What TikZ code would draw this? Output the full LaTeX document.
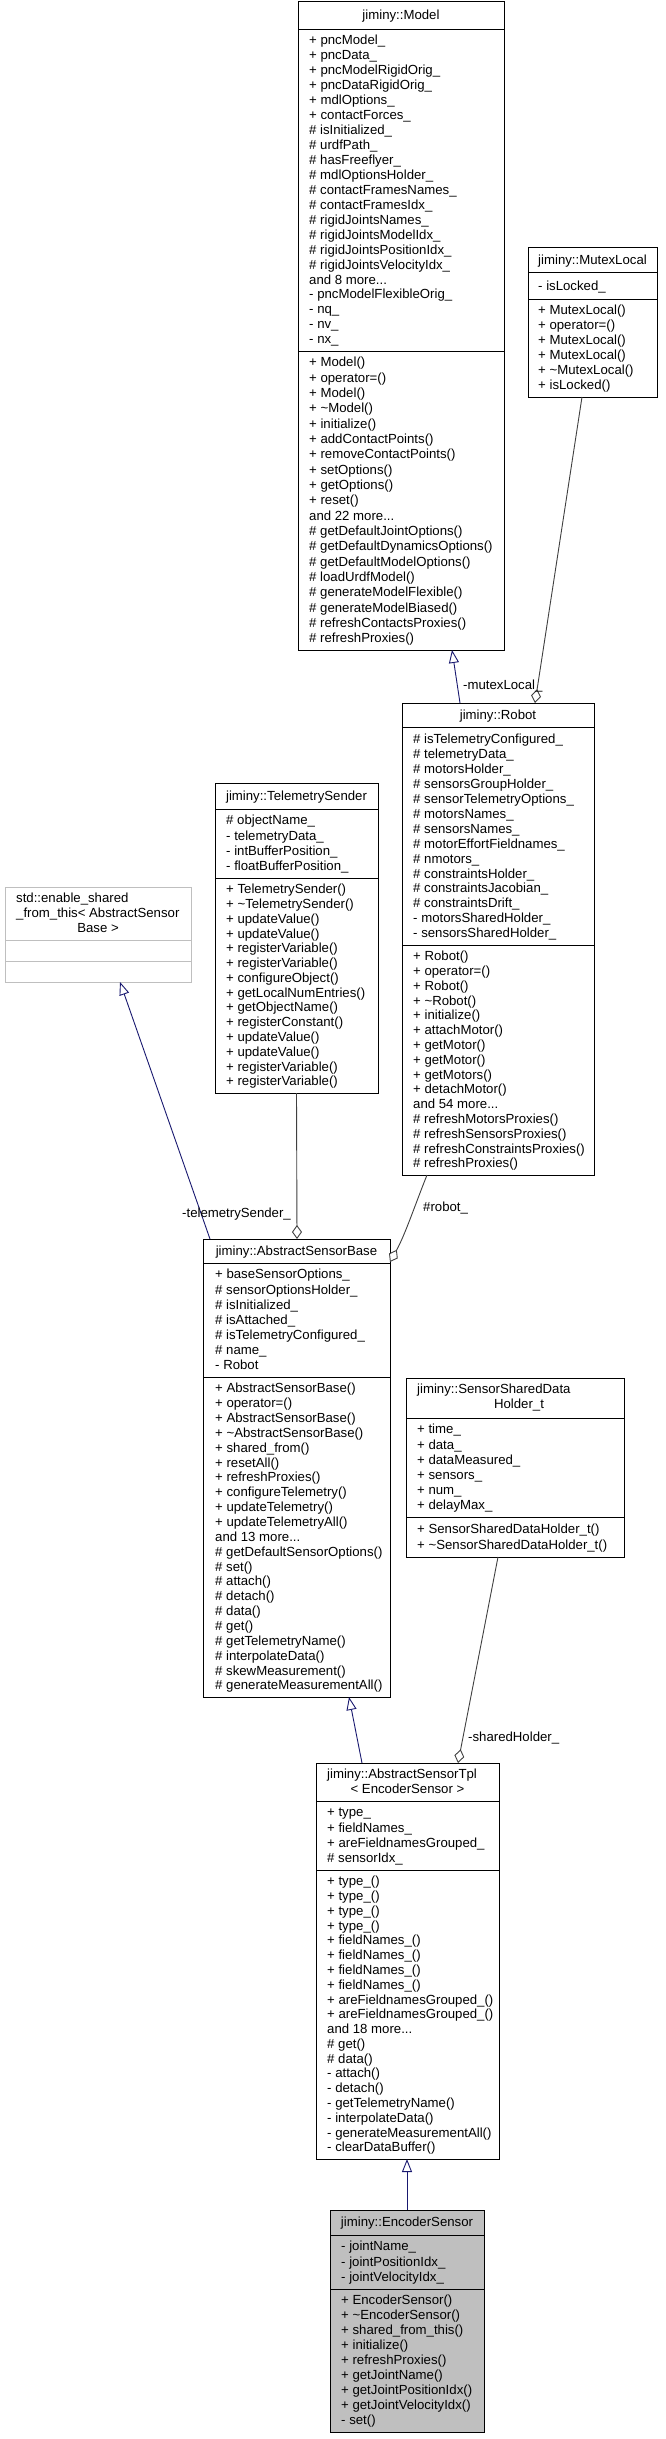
\documentclass[tikz,border=0pt]{standalone}
\usepackage{fontspec}
\setmainfont{Liberation Sans}
\usetikzlibrary{arrows.meta,calc,fit}
\definecolor{navyc}{HTML}{191970}
\definecolor{aggc}{HTML}{404040}
\definecolor{lgray}{HTML}{BFBFBF}
\newcommand\threedots{...}
\newcommand\cbox[6]{%
  \coordinate (#1-nw) at (#2,#3); \coordinate (#1-se) at (#4,#5);
  \node[clsbox, fit=(#1-nw)(#1-se), #6] (#1) {};}
\newcommand\csep[2]{\draw[sepline] (#1.west |- 0,#2) -- (#1.east |- 0,#2);}
\newcommand\complines[6]{%
  \pgfmathsetmacro\lnh{(#4-#3-8)/#5}%
  \foreach \txt [count=\i from 0] in {#6} {%
    \node[ltext] (#1-\i) at ({#2},{#3+4+(\i+0.5)*\lnh+4.3}) {\txt};
  }}
\begin{document}
\begin{tikzpicture}[x=1pt,y=-1pt,
  ltext/.style={anchor=base west, inner sep=0pt, font=\fontsize{13.2}{15}\selectfont},
  ctext/.style={anchor=base, inner sep=0pt, font=\fontsize{13.2}{15}\selectfont},
  rtext/.style={anchor=base east, inner sep=0pt, font=\fontsize{13.2}{15}\selectfont},
  clsbox/.style={draw=black, line width=0.9pt, inner sep=0pt, outer sep=0pt},
  sepline/.style={draw=black, line width=0.9pt},
  inh/.style={draw=navyc, line width=0.9pt, -{Triangle[length=13pt, width=10pt, fill=white]}},
  agg/.style={draw=aggc, line width=0.9pt, -{Diamond[length=14pt, width=10pt, fill=white]}}]
\fill[white] (0,0) rectangle (665,2439);
\useasboundingbox (0,0) rectangle (665,2439);

% jiminy::Model
\cbox{model}{298}{1}{504}{650}{}
\csep{model}{29}\csep{model}{351}
\node[ctext] (model-t) at (401,19.3) {jiminy::Model};
\complines{ma}{309}{29}{351}{21}{+ pncModel\_,+ pncData\_,+ pncModelRigidOrig\_,+ pncDataRigidOrig\_,+ mdlOptions\_,+ contactForces\_,\# isInitialized\_,\# urdfPath\_,\# hasFreeflyer\_,\# mdlOptionsHolder\_,\# contactFramesNames\_,\# contactFramesIdx\_,\# rigidJointsNames\_,\# rigidJointsModelIdx\_,\# rigidJointsPositionIdx\_,\# rigidJointsVelocityIdx\_,and 8 more\threedots,- pncModelFlexibleOrig\_,- nq\_,- nv\_,- nx\_}
\complines{mm}{309}{351}{650}{19}{+ Model(),+ operator=(),+ Model(),+ \textasciitilde Model(),+ initialize(),+ addContactPoints(),+ removeContactPoints(),+ setOptions(),+ getOptions(),+ reset(),and 22 more\threedots,\# getDefaultJointOptions(),\# getDefaultDynamicsOptions(),\# getDefaultModelOptions(),\# loadUrdfModel(),\# generateModelFlexible(),\# generateModelBiased(),\# refreshContactsProxies(),\# refreshProxies()}

% jiminy::MutexLocal
\cbox{mutex}{528}{247}{657}{397}{}
\csep{mutex}{272.7}\csep{mutex}{299}
\node[ctext] (mutex-t) at (592.5,264.3) {jiminy::MutexLocal};
\complines{xa}{538}{272.7}{299}{1}{- isLocked\_}
\complines{xm}{538}{299}{397}{6}{+ MutexLocal(),+ operator=(),+ MutexLocal(),+ MutexLocal(),+ \textasciitilde MutexLocal(),+ isLocked()}

% jiminy::Robot
\cbox{robot}{402}{703}{594}{1175}{}
\csep{robot}{727.7}\csep{robot}{945}
\node[ctext] (robot-t) at (498,719.6) {jiminy::Robot};
\complines{ra}{413}{727.7}{945}{14}{\# isTelemetryConfigured\_,\# telemetryData\_,\# motorsHolder\_,\# sensorsGroupHolder\_,\# sensorTelemetryOptions\_,\# motorsNames\_,\# sensorsNames\_,\# motorEffortFieldnames\_,\# nmotors\_,\# constraintsHolder\_,\# constraintsJacobian\_,\# constraintsDrift\_,- motorsSharedHolder\_,- sensorsSharedHolder\_}
\complines{rm}{413}{945}{1175}{15}{+ Robot(),+ operator=(),+ Robot(),+ \textasciitilde Robot(),+ initialize(),+ attachMotor(),+ getMotor(),+ getMotor(),+ getMotors(),+ detachMotor(),and 54 more\threedots,\# refreshMotorsProxies(),\# refreshSensorsProxies(),\# refreshConstraintsProxies(),\# refreshProxies()}

% jiminy::TelemetrySender
\cbox{ts}{215}{783}{378}{1093}{}
\csep{ts}{809}\csep{ts}{878}
\node[ctext] (ts-t) at (296.5,800.3) {jiminy::TelemetrySender};
\complines{ta}{226}{809}{878}{4}{\# objectName\_,- telemetryData\_,- intBufferPosition\_,- floatBufferPosition\_}
\complines{tm}{226}{878}{1093}{14}{+ TelemetrySender(),+ \textasciitilde TelemetrySender(),+ updateValue(),+ updateValue(),+ registerVariable(),+ registerVariable(),+ configureObject(),+ getLocalNumEntries(),+ getObjectName(),+ registerConstant(),+ updateValue(),+ updateValue(),+ registerVariable(),+ registerVariable()}

% std::enable_shared_from_this
\cbox{esft}{5}{887}{191}{982}{draw=lgray}
\draw[sepline, draw=lgray] (esft.west |- 0,940) -- (esft.east |- 0,940);
\draw[sepline, draw=lgray] (esft.west |- 0,961) -- (esft.east |- 0,961);
\node[ltext] (esft-t1) at (16,902.3) {std::enable\_shared};
\node[ltext] (esft-t2) at (16,917.3) {\_from\_this< AbstractSensor};
\node[ctext] (esft-t3) at (98,932.3) {Base >};

% jiminy::AbstractSensorBase
\cbox{asb}{203}{1239}{390}{1697}{}
\csep{asb}{1263}\csep{asb}{1377}
\node[ctext] (asb-t) at (296.5,1255.3) {jiminy::AbstractSensorBase};
\complines{aa}{215}{1263}{1377}{7}{+ baseSensorOptions\_,\# sensorOptionsHolder\_,\# isInitialized\_,\# isAttached\_,\# isTelemetryConfigured\_,\# name\_,- Robot}
\complines{am}{215}{1377}{1697}{21}{+ AbstractSensorBase(),+ operator=(),+ AbstractSensorBase(),+ \textasciitilde AbstractSensorBase(),+ shared\_from(),+ resetAll(),+ refreshProxies(),+ configureTelemetry(),+ updateTelemetry(),+ updateTelemetryAll(),and 13 more\threedots,\# getDefaultSensorOptions(),\# set(),\# attach(),\# detach(),\# data(),\# get(),\# getTelemetryName(),\# interpolateData(),\# skewMeasurement(),\# generateMeasurementAll()}

% jiminy::SensorSharedDataHolder_t
\cbox{ssdh}{406}{1378}{624}{1557}{}
\csep{ssdh}{1418}\csep{ssdh}{1517}
\node[ltext] (ssdh-t1) at (417,1393.7) {jiminy::SensorSharedData};
\node[ctext] (ssdh-t2) at (519,1408.5) {Holder\_t};
\complines{sa}{417}{1418}{1517}{6}{+ time\_,+ data\_,+ dataMeasured\_,+ sensors\_,+ num\_,+ delayMax\_}
\complines{sm}{417}{1517}{1557}{2}{+ SensorSharedDataHolder\_t(),+ \textasciitilde SensorSharedDataHolder\_t()}

% jiminy::AbstractSensorTpl< EncoderSensor >
\cbox{tpl}{316}{1763}{499}{2159}{}
\csep{tpl}{1801}\csep{tpl}{1870}
\node[ltext] (tpl-t1) at (327,1778.7) {jiminy::AbstractSensorTpl};
\node[ctext] (tpl-t2) at (407.5,1793.5) {< EncoderSensor >};
\complines{pa}{327}{1801}{1870}{4}{+ type\_,+ fieldNames\_,+ areFieldnamesGrouped\_,\# sensorIdx\_}
\complines{pm}{327}{1870}{2159}{19}{+ type\_(),+ type\_(),+ type\_(),+ type\_(),+ fieldNames\_(),+ fieldNames\_(),+ fieldNames\_(),+ fieldNames\_(),+ areFieldnamesGrouped\_(),+ areFieldnamesGrouped\_(),and 18 more\threedots,\# get(),\# data(),- attach(),- detach(),- getTelemetryName(),- interpolateData(),- generateMeasurementAll(),- clearDataBuffer()}

% jiminy::EncoderSensor
\cbox{enc}{330}{2210}{484}{2432}{fill=lgray}
\csep{enc}{2235}\csep{enc}{2289}
\node[ctext] (enc-t) at (407,2226.8) {jiminy::EncoderSensor};
\complines{ea}{341}{2235}{2289}{3}{- jointName\_,- jointPositionIdx\_,- jointVelocityIdx\_}
\complines{em}{341}{2289}{2432}{9}{+ EncoderSensor(),+ \textasciitilde EncoderSensor(),+ shared\_from\_this(),+ initialize(),+ refreshProxies(),+ getJointName(),+ getJointPositionIdx(),+ getJointVelocityIdx(),- set()}

% connectors
\draw[inh] ($(robot.north west)+(58,0)$) -- ($(model.south west)+(154,0)$);
\draw[agg] ($(mutex.south west)+(54,0)$) -- ($(robot.north west)+(133,0)$);
\node[ltext] (lbl-mutex) at (463,689) {-mutexLocal\_};
\draw[inh] ($(asb.north west)+(7,0)$) -- ($(esft.south west)+(115,0)$);
\draw[agg] (ts.south) -- ($(asb.north west)+(94,0)$);
\node[rtext] (lbl-ts) at (291,1217) {-telemetrySender\_};
\draw[agg] ($(robot.south west)+(25,0)$) .. controls (415,1205) and (405,1235) .. ($(asb.north east)+(0,23)$);
\node[ltext] (lbl-robot) at (423,1211) {\#robot\_};
\draw[inh] ($(tpl.north west)+(46,0)$) -- ($(asb.south west)+(146,0)$);
\draw[agg] ($(ssdh.south west)+(92,0)$) -- ($(tpl.north west)+(142,0)$);
\node[ltext] (lbl-ssdh) at (468,1741) {-sharedHolder\_};
\draw[inh] ($(enc.north west)+(77,0)$) -- ($(tpl.south west)+(91,0)$);
\end{tikzpicture}
\end{document}
